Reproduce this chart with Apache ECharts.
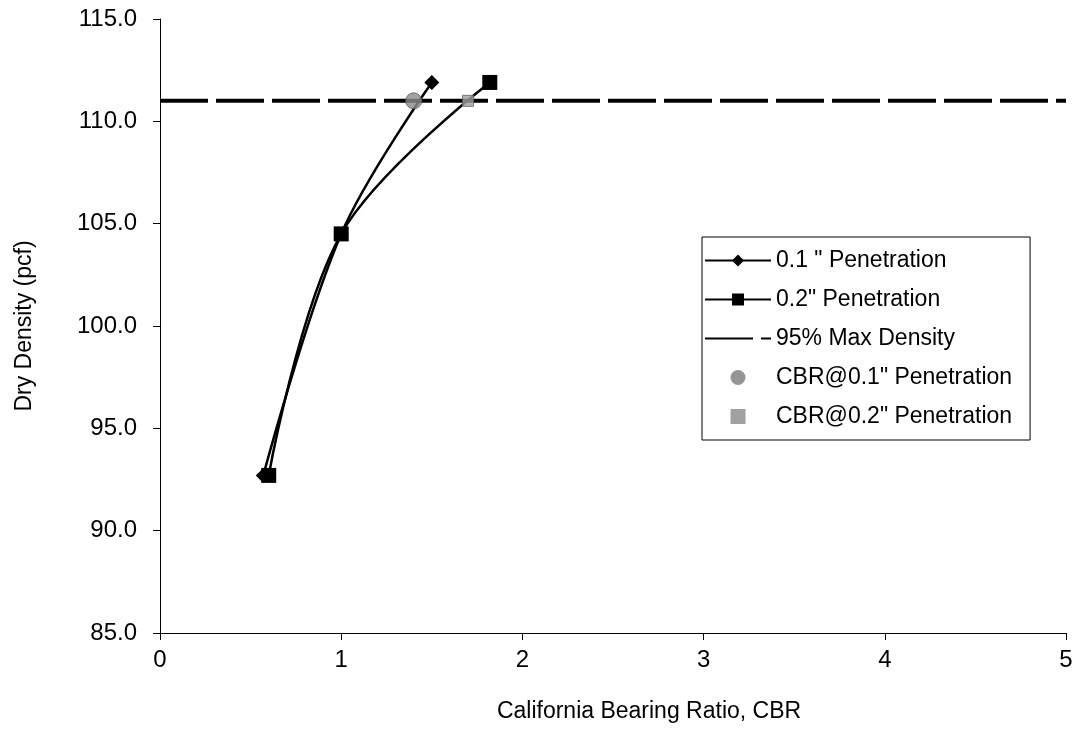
<!DOCTYPE html>
<html>
<head>
<meta charset="utf-8">
<script src="https://cdn.jsdelivr.net/npm/echarts@6/dist/echarts.min.js"></script>
<style>
html,body{margin:0;padding:0;background:#fff;}
#chart{width:1077px;height:742px;}
</style>
</head>
<body>
<div id="chart"></div>
<script>
// ---- data ----
const seriesNames = ['0.1 " Penetration', '0.2" Penetration', '95% Max Density', 'CBR@0.1" Penetration', 'CBR@0.2" Penetration'];
const pen01_cbr = [0.57, 1.0, 1.5];
const pen01_density = [92.7, 104.5, 111.9];
const pen02_cbr = [0.60, 1.0, 1.82];
const pen02_density = [92.7, 104.5, 111.9];
const maxDensity_cbr = [0, 5];
const maxDensity_value = [111.0, 111.0];
const cbr01_point = [1.4, 111.0];
const cbr02_point = [1.7, 111.0];
const xTicks = [0, 1, 2, 3, 4, 5];
const yTicks = [85, 90, 95, 100, 105, 110, 115];

const FONT = "'Liberation Sans', Arial, sans-serif";
const zip = (a, b) => a.map((v, i) => [v, b[i]]);

const chart = echarts.init(document.getElementById('chart'), null, {renderer: 'canvas'});
chart.setOption({
  animation: false,
  backgroundColor: '#fff',
  grid: {left: 160, right: 11, top: 19, bottom: 109, containLabel: false},
  xAxis: {
    type: 'value',
    min: xTicks[0], max: xTicks[xTicks.length - 1], interval: 1,
    name: 'California Bearing Ratio, CBR',
    nameLocation: 'middle', nameGap: 67,
    nameTextStyle: {fontFamily: FONT, fontSize: 23, color: '#000', padding: [0, 0, 0, 72]},
    axisLine: {show: true, onZero: false, lineStyle: {color: '#000', width: 1}},
    axisTick: {show: true, length: 7, lineStyle: {color: '#000'}},
    axisLabel: {fontFamily: FONT, fontSize: 24, color: '#000', margin: 15},
    splitLine: {show: false}
  },
  yAxis: {
    type: 'value',
    min: yTicks[0], max: yTicks[yTicks.length - 1], interval: 5,
    name: 'Dry Density (pcf)',
    nameLocation: 'middle', nameGap: 124, nameRotate: 90,
    nameTextStyle: {fontFamily: FONT, fontSize: 23, color: '#000'},
    axisLine: {show: true, onZero: false, lineStyle: {color: '#000', width: 1}},
    axisTick: {show: true, length: 7, lineStyle: {color: '#000'}},
    axisLabel: {fontFamily: FONT, fontSize: 24, color: '#000', margin: 23,
      formatter: v => v.toFixed(1)},
    splitLine: {show: false}
  },
  legend: {
    orient: 'vertical', left: 702, top: 237,
    padding: [12, 18, 12, 2],
    itemWidth: 66, itemHeight: 15, itemGap: 16,
    selectedMode: false,
    borderColor: '#000', borderWidth: 1, backgroundColor: '#fff',
    textStyle: {fontFamily: FONT, fontSize: 23, color: '#000'},
    data: [
      seriesNames[0], seriesNames[1], seriesNames[2],
      {name: seriesNames[3], icon: 'circle', itemStyle: {color: '#7a7a7a', borderWidth: 0}},
      {name: seriesNames[4], icon: 'path://M0,0L10,0L10,10L0,10Z', itemStyle: {color: '#8a8a8a', borderWidth: 0}}
    ]
  },
  series: [
    {
      name: seriesNames[0], type: 'line', data: zip(pen01_cbr, pen01_density),
      smooth: 0.35, symbol: 'diamond', symbolSize: 15,
      lineStyle: {color: '#000', width: 2.5}, itemStyle: {color: '#000'}, z: 3
    },
    {
      name: seriesNames[1], type: 'line', data: zip(pen02_cbr, pen02_density),
      smooth: 0.35, symbol: 'rect', symbolSize: 15,
      lineStyle: {color: '#000', width: 2.5}, itemStyle: {color: '#000'}, z: 3
    },
    {
      name: seriesNames[2], type: 'line', data: zip(maxDensity_cbr, maxDensity_value),
      symbol: 'none', showSymbol: false,
      lineStyle: {color: '#000', width: 4, type: [48, 8]},
      itemStyle: {color: 'rgba(0,0,0,0)'}, z: 2
    },
    {
      name: seriesNames[3], type: 'scatter', data: [cbr01_point],
      symbol: 'circle', symbolSize: 16,
      itemStyle: {color: '#8c8c8c', borderColor: '#5a5a5a', borderWidth: 1}, z: 5
    },
    {
      name: seriesNames[4], type: 'scatter', data: [cbr02_point],
      symbol: 'rect', symbolSize: 11,
      itemStyle: {color: '#a0a0a0', borderColor: '#606060', borderWidth: 1}, z: 5
    }
  ]
});
</script>
</body>
</html>
